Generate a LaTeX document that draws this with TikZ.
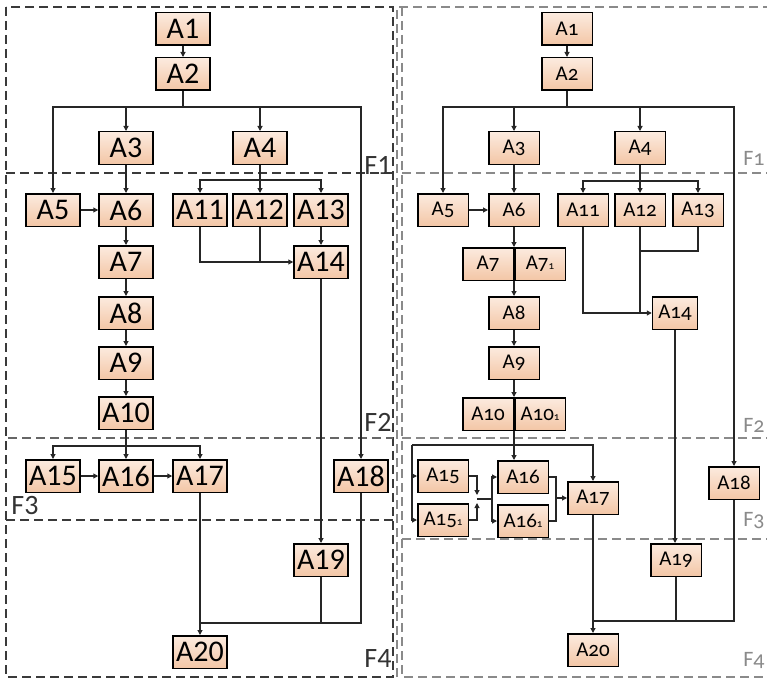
\documentclass[tikz,border=0pt]{standalone}
\usepackage{fontspec}
\setmainfont{Carlito}
\newfontfamily\oldfig[Numbers=OldStyle]{Carlito}
\usetikzlibrary{arrows.meta}
\definecolor{boxtop}{HTML}{FCEBDF}
\definecolor{boxbot}{HTML}{F3C6A6}
\definecolor{framedark}{HTML}{3A3A3A}
\definecolor{framelight}{HTML}{8A8A8A}
\newcommand{\subone}{{\fontsize{11}{11}\selectfont 1}}

\begin{document}
\begin{tikzpicture}[x=1pt, y=-1pt,
    lbox/.style={draw=black, line width=1.5pt, top color=boxtop, bottom color=boxbot,
                 minimum width=54pt, minimum height=32.5pt, inner sep=0pt,
                 font=\fontsize{30}{30}\selectfont},
    rbox/.style={lbox, minimum width=50.5pt, font=\oldfig\fontsize{21}{21}\selectfont},
    link/.style={line width=1.1pt, black!85},
    arr/.style={link, -{Triangle[length=5pt, width=5pt]}},
    frame/.style={dash pattern=on 9pt off 5pt, line width=1.6pt, framedark},
    lfr/.style={frame, framelight},
    ltxt/.style={font=\fontsize{28}{28}\selectfont, text=black!80, inner sep=0pt},
    rtxt/.style={font=\oldfig\fontsize{22}{22}\selectfont, text=framelight, inner sep=0pt}]

    \useasboundingbox (0,0) rectangle (767,679);

    % Rahmen links
    \draw[frame] (6,7) rectangle (393,677);
    \draw[frame] (6,173) -- (393,173);
    \draw[frame, black!60] (8,438) -- (393,438);
    \draw[frame] (6,520) -- (393,520);

    % Rahmen rechts
    \draw[lfr] (397,677) -- (397,7) -- (770,7);
    \draw[lfr] (402,7) -- (402,677) -- (770,677);
    \draw[lfr] (402,173) -- (770,173);
    \draw[lfr] (402,438) -- (770,438);
    \draw[lfr] (402,539) -- (770,539);

    % Bereiche
    \node[ltxt] (lf1) at (378,165) {F1};
    \node[ltxt] (lf2) at (378,422) {F2};
    \node[ltxt] (lf3) at (25,506) {F3};
    \node[ltxt] (lf4) at (378,659) {F4};
    \node[rtxt] (rf1) at (754,158) {F1};
    \node[rtxt] (rf2) at (754,425) {F2};
    \node[rtxt] (rf3) at (754,521) {F3};
    \node[rtxt] (rf4) at (754,660) {F4};

    % Knoten links
    \node[lbox] (la1) at (183,29) {A1};
    \node[lbox] (la2) at (183,74) {A2};
    \node[lbox] (la3) at (126,148) {A3};
    \node[lbox] (la4) at (260,148) {A4};
    \node[lbox] (la5) at (53,210) {A5};
    \node[lbox] (la6) at (126,210) {A6};
    \node[lbox] (la11) at (200,210) {A11};
    \node[lbox] (la12) at (260,210) {A12};
    \node[lbox] (la13) at (321,210) {A13};
    \node[lbox] (la7) at (126,262) {A7};
    \node[lbox] (la14) at (321,262) {A14};
    \node[lbox] (la8) at (126,313) {A8};
    \node[lbox] (la9) at (126,363) {A9};
    \node[lbox] (la10) at (126,413) {A10};
    \node[lbox] (la15) at (53,476) {A15};
    \node[lbox] (la16) at (126,476) {A16};
    \node[lbox] (la17) at (200,476) {A17};
    \node[lbox] (la18) at (361,476) {A18};
    \node[lbox] (la19) at (321,560) {A19};
    \node[lbox] (la20) at (200,652) {A20};

    % Verbindungen links
    \coordinate (lj2) at (183,107);
    \coordinate (lj4) at (260,180);
    \coordinate (lj10) at (126,446);
    \coordinate (lj20) at (200,623);
    \draw[arr] (la1) -- (la2);
    \draw[link] (la2) -- (lj2);
    \foreach \n in {la5,la3,la4,la18}
        \draw[arr] (lj2) -| (\n);
    \draw[link] (la4) -- (lj4);
    \foreach \n in {la11,la12,la13}
        \draw[arr] (lj4) -| (\n);
    \draw[arr] (la3) -- (la6);
    \draw[arr] (la5) -- (la6);
    \draw[arr] (la6) -- (la7);
    \draw[arr] (la7) -- (la8);
    \draw[arr] (la8) -- (la9);
    \draw[arr] (la9) -- (la10);
    \draw[arr] (la11) |- (la14);
    \draw[link] (la12) -- (la12 |- la14);
    \draw[arr] (la13) -- (la14);
    \draw[arr] (la14) -- (la19);
    \draw[link] (la10) -- (lj10);
    \foreach \n in {la15,la16,la17}
        \draw[arr] (lj10) -| (\n);
    \draw[arr] (la15) -- (la16);
    \draw[arr] (la16) -- (la17);
    \draw[arr] (la17) -- (la20);
    \draw[link] (la19) |- (lj20);
    \draw[link] (la18) |- (lj20);

    % Knoten rechts
    \node[rbox] (ra1) at (567,29) {A1};
    \node[rbox] (ra2) at (567,74) {A2};
    \node[rbox] (ra3) at (514,148) {A3};
    \node[rbox] (ra4) at (640,148) {A4};
    \node[rbox] (ra5) at (443,210) {A5};
    \node[rbox] (ra6) at (514,210) {A6};
    \node[rbox] (ra11) at (583,210) {A11};
    \node[rbox] (ra12) at (640,210) {A12};
    \node[rbox] (ra13) at (698,210) {A13};
    \node[rbox] (ra7) at (488,264) {A7};
    \node[rbox] (ra7b) at (540,264) {A7\subone};
    \node[rbox, minimum width=45pt] (ra14) at (675,313) {A14};
    \node[rbox] (ra8) at (514,313) {A8};
    \node[rbox] (ra9) at (514,363) {A9};
    \node[rbox] (ra10) at (488,414) {A10};
    \node[rbox] (ra10b) at (540,414) {A10\subone};
    \node[rbox] (ra15) at (443,476) {A15};
    \node[rbox] (ra15b) at (443,520) {A15\subone};
    \node[rbox] (ra16) at (523,477) {A16};
    \node[rbox] (ra16b) at (523,521) {A16\subone};
    \node[rbox] (ra17) at (593,498) {A17};
    \node[rbox] (ra18) at (734,483) {A18};
    \node[rbox] (ra19) at (676,560) {A19};
    \node[rbox] (ra20) at (593,650) {A20};

    % Verbindungen rechts
    \coordinate (rj2) at (567,107);
    \coordinate (rj4) at (640,181);
    \coordinate (rk13) at (640,251);
    \coordinate (rj15) at (412,445);
    \coordinate (rm15) at (477,499);
    \coordinate (rn16) at (492,499);
    \coordinate (rp16) at (556,498);
    \coordinate (rj20) at (593,621);
    \draw[arr] (ra1) -- (ra2);
    \draw[link] (ra2) -- (rj2);
    \foreach \n in {ra5,ra3,ra4,ra18}
        \draw[arr] (rj2) -| (\n);
    \draw[link] (ra4) -- (rj4);
    \foreach \n in {ra11,ra12,ra13}
        \draw[arr] (rj4) -| (\n);
    \draw[arr] (ra3) -- (ra6);
    \draw[arr] (ra5) -- (ra6);
    \draw[arr] (ra6) -- (ra6 |- ra7.north);
    \draw[arr] (ra6 |- ra7.south) -- (ra8);
    \draw[arr] (ra8) -- (ra9);
    \draw[arr] (ra9) -- (ra9 |- ra10.north);
    \draw[arr] (ra9 |- ra10.south) -- (ra9 |- ra16.north);
    \draw[arr] (ra11) |- (ra14);
    \draw[link] (ra12) -- (ra12 |- ra14);
    \draw[link] (ra13) |- (rk13);
    \draw[arr] (ra14) -- (ra14 |- ra19.north);
    \draw[arr] (rj15) -| (ra17);
    \draw[arr] (rj15) |- (ra15);
    \draw[arr] (rj15) |- (ra15b);
    \draw[arr, shorten >=4pt] (ra15) -| (rm15);
    \draw[arr, shorten >=4pt] (ra15b) -| (rm15);
    \draw[link] (rm15) -- (rn16);
    \draw[arr] (rn16) |- (ra16);
    \draw[arr] (rn16) |- (ra16b);
    \draw[link] (ra16) -| (rp16);
    \draw[link] (ra16b) -| (rp16);
    \draw[arr] (rp16) -- (ra17);
    \draw[arr] (ra17) -- (ra20);
    \draw[link] (ra19) |- (rj20);
    \draw[link] (ra18) |- (rj20);

\end{tikzpicture}
\end{document}
